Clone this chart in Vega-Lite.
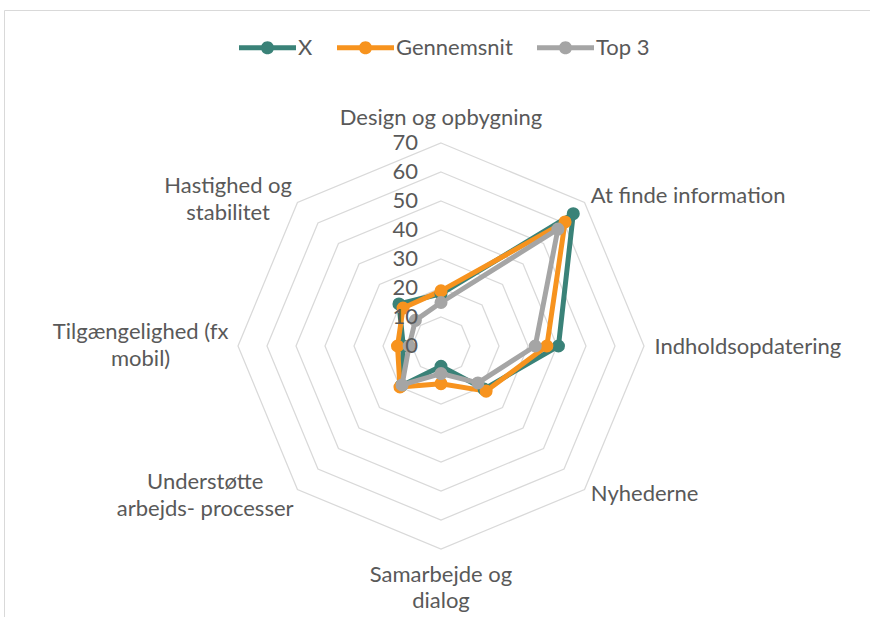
{
  "$schema": "https://vega.github.io/schema/vega-lite/v6.json",
  "width": 866,
  "height": 607,
  "autosize": {"type": "none"},
  "padding": {"left": 4, "top": 10, "right": 0, "bottom": 0},
  "background": "white",
  "config": {"view": {"stroke": null}, "font": "Lato", "text": {"font": "Lato"}},
  "datasets": {
    "series": [
      {"s": "X", "i": 0, "v": 18},
      {"s": "X", "i": 1, "v": 64.5},
      {"s": "X", "i": 2, "v": 40.5},
      {"s": "X", "i": 3, "v": 21},
      {"s": "X", "i": 4, "v": 7},
      {"s": "X", "i": 5, "v": 19.5},
      {"s": "X", "i": 6, "v": 13},
      {"s": "X", "i": 7, "v": 20.5},
      {"s": "Gennemsnit", "i": 0, "v": 19},
      {"s": "Gennemsnit", "i": 1, "v": 60.5},
      {"s": "Gennemsnit", "i": 2, "v": 36.5},
      {"s": "Gennemsnit", "i": 3, "v": 22},
      {"s": "Gennemsnit", "i": 4, "v": 13},
      {"s": "Gennemsnit", "i": 5, "v": 20},
      {"s": "Gennemsnit", "i": 6, "v": 15},
      {"s": "Gennemsnit", "i": 7, "v": 18.5},
      {"s": "Top 3", "i": 0, "v": 15},
      {"s": "Top 3", "i": 1, "v": 57},
      {"s": "Top 3", "i": 2, "v": 32.5},
      {"s": "Top 3", "i": 3, "v": 18},
      {"s": "Top 3", "i": 4, "v": 9.5},
      {"s": "Top 3", "i": 5, "v": 19},
      {"s": "Top 3", "i": 6, "v": 11},
      {"s": "Top 3", "i": 7, "v": 12.5}
    ],
    "rings": [
      {"r": 10, "k": [0, 1, 2, 3, 4, 5, 6, 7]},
      {"r": 20, "k": [0, 1, 2, 3, 4, 5, 6, 7]},
      {"r": 30, "k": [0, 1, 2, 3, 4, 5, 6, 7]},
      {"r": 40, "k": [0, 1, 2, 3, 4, 5, 6, 7]},
      {"r": 50, "k": [0, 1, 2, 3, 4, 5, 6, 7]},
      {"r": 60, "k": [0, 1, 2, 3, 4, 5, 6, 7]},
      {"r": 70, "k": [0, 1, 2, 3, 4, 5, 6, 7]}
    ],
    "ticks": [
      {"t": 0}, {"t": 10}, {"t": 20}, {"t": 30}, {"t": 40}, {"t": 50}, {"t": 60}, {"t": 70}
    ],
    "axes": [
      {"i": 0, "label": "Design og opbygning"},
      {"i": 1, "label": "At finde information"},
      {"i": 2, "label": "Indholdsopdatering"},
      {"i": 3, "label": "Nyhederne"},
      {"i": 4, "label": ["Samarbejde og", "dialog"]},
      {"i": 5, "label": ["Understøtte", "arbejds- processer"]},
      {"i": 6, "label": ["Tilgængelighed (fx", "mobil)"]},
      {"i": 7, "label": ["Hastighed og", "stabilitet"]}
    ]
  },
  "encoding": {
    "x": {
      "field": "x", "type": "quantitative",
      "scale": {"domain": [-150.69, 147.93], "nice": false, "zero": false},
      "axis": {"orient": "top", "labels": false, "ticks": false, "grid": false, "title": null, "domainColor": "#D9D9D9", "domainWidth": 1}
    },
    "y": {
      "field": "y", "type": "quantitative",
      "scale": {"domain": [-93.45, 115.86], "nice": false, "zero": false},
      "axis": {"orient": "left", "labels": false, "ticks": false, "grid": false, "title": null, "domainColor": "#D9D9D9", "domainWidth": 1}
    }
  },
  "layer": [
    {
      "data": {"name": "rings"},
      "transform": [
        {"flatten": ["k"]},
        {"calculate": "datum.r*sin(datum.k*PI/4)", "as": "x"},
        {"calculate": "datum.r*cos(datum.k*PI/4)", "as": "y"}
      ],
      "mark": {"type": "line", "interpolate": "linear-closed", "stroke": "#D9D9D9", "strokeWidth": 1.25},
      "encoding": {
        "detail": {"field": "r", "type": "nominal"},
        "order": {"field": "k", "type": "quantitative"}
      }
    },
    {
      "data": {"name": "series"},
      "transform": [
        {"calculate": "datum.v*sin(datum.i*PI/4)", "as": "x"},
        {"calculate": "datum.v*cos(datum.i*PI/4)", "as": "y"}
      ],
      "encoding": {
        "color": {
          "field": "s", "type": "nominal",
          "scale": {"domain": ["X", "Gennemsnit", "Top 3"], "range": ["#3A8278", "#F7931E", "#A5A5A5"]},
          "legend": {
            "orient": "none", "legendX": 235, "legendY": 9, "direction": "horizontal",
            "title": null,
            "symbolType": "M-1,-0.09H1V0.09H-1Z M-0.23,0A0.23,0.23 0 1,1 0.23,0A0.23,0.23 0 1,1 -0.23,0Z",
            "symbolSize": 3249, "symbolStrokeWidth": 0, "symbolOpacity": 1,
            "labelFontSize": 22, "labelFont": "Lato", "labelColor": "#595959", "labelOffset": 2,
            "columnPadding": 24,
            "encode": {"symbols": {"update": {"fill": {"scale": "color", "field": "value"}, "strokeWidth": {"value": 0}, "opacity": {"value": 1}}}}
          }
        }
      },
      "layer": [
        {
          "mark": {"type": "line", "interpolate": "linear-closed", "strokeWidth": 5, "strokeJoin": "round"},
          "encoding": {
            "order": {"field": "i", "type": "quantitative"}
          }
        },
        {
          "mark": {"type": "point", "filled": true, "size": 170, "opacity": 1, "shape": "circle"}
        }
      ]
    },
    {
      "data": {"name": "ticks"},
      "transform": [
        {"calculate": "0", "as": "x"},
        {"calculate": "datum.t", "as": "y"}
      ],
      "mark": {"type": "text", "align": "right", "baseline": "middle", "dx": -23, "fontSize": 22, "color": "#595959"},
      "encoding": {"text": {"field": "t", "type": "quantitative"}}
    },
    {
      "data": {"name": "axes"},
      "transform": [
        {"calculate": "76*sin(datum.i*PI/4)", "as": "x"},
        {"calculate": "76*cos(datum.i*PI/4)", "as": "y"}
      ],
      "encoding": {"text": {"field": "label"}},
      "layer": [
        {"transform": [{"filter": "datum.i == 0"}], "mark": {"type": "text", "align": "center", "baseline": "middle", "dy": -8, "fontSize": 22, "color": "#595959", "lineHeight": 27}},
        {"transform": [{"filter": "datum.i == 1"}], "mark": {"type": "text", "align": "left", "baseline": "middle", "dx": -6, "dy": 6, "fontSize": 22, "color": "#595959", "lineHeight": 27}},
        {"transform": [{"filter": "datum.i == 2"}], "mark": {"type": "text", "align": "left", "baseline": "middle", "dx": -7, "dy": 1, "fontSize": 22, "color": "#595959", "lineHeight": 27}},
        {"transform": [{"filter": "datum.i == 3"}], "mark": {"type": "text", "align": "left", "baseline": "middle", "dx": -6, "dy": -8, "fontSize": 22, "color": "#595959", "lineHeight": 27}},
        {"transform": [{"filter": "datum.i == 4"}], "mark": {"type": "text", "align": "center", "baseline": "middle", "dy": 9, "fontSize": 22, "color": "#595959", "lineHeight": 26}},
        {"transform": [{"filter": "datum.i == 5"}], "mark": {"type": "text", "align": "center", "baseline": "middle", "dx": -80, "dy": -20, "fontSize": 22, "color": "#595959", "lineHeight": 27}},
        {"transform": [{"filter": "datum.i == 6"}], "mark": {"type": "text", "align": "center", "baseline": "middle", "dx": -80, "dy": -14, "fontSize": 22, "color": "#595959", "lineHeight": 27}},
        {"transform": [{"filter": "datum.i == 7"}], "mark": {"type": "text", "align": "center", "baseline": "middle", "dx": -57, "dy": -4, "fontSize": 22, "color": "#595959", "lineHeight": 27}}
      ]
    }
  ]
}
